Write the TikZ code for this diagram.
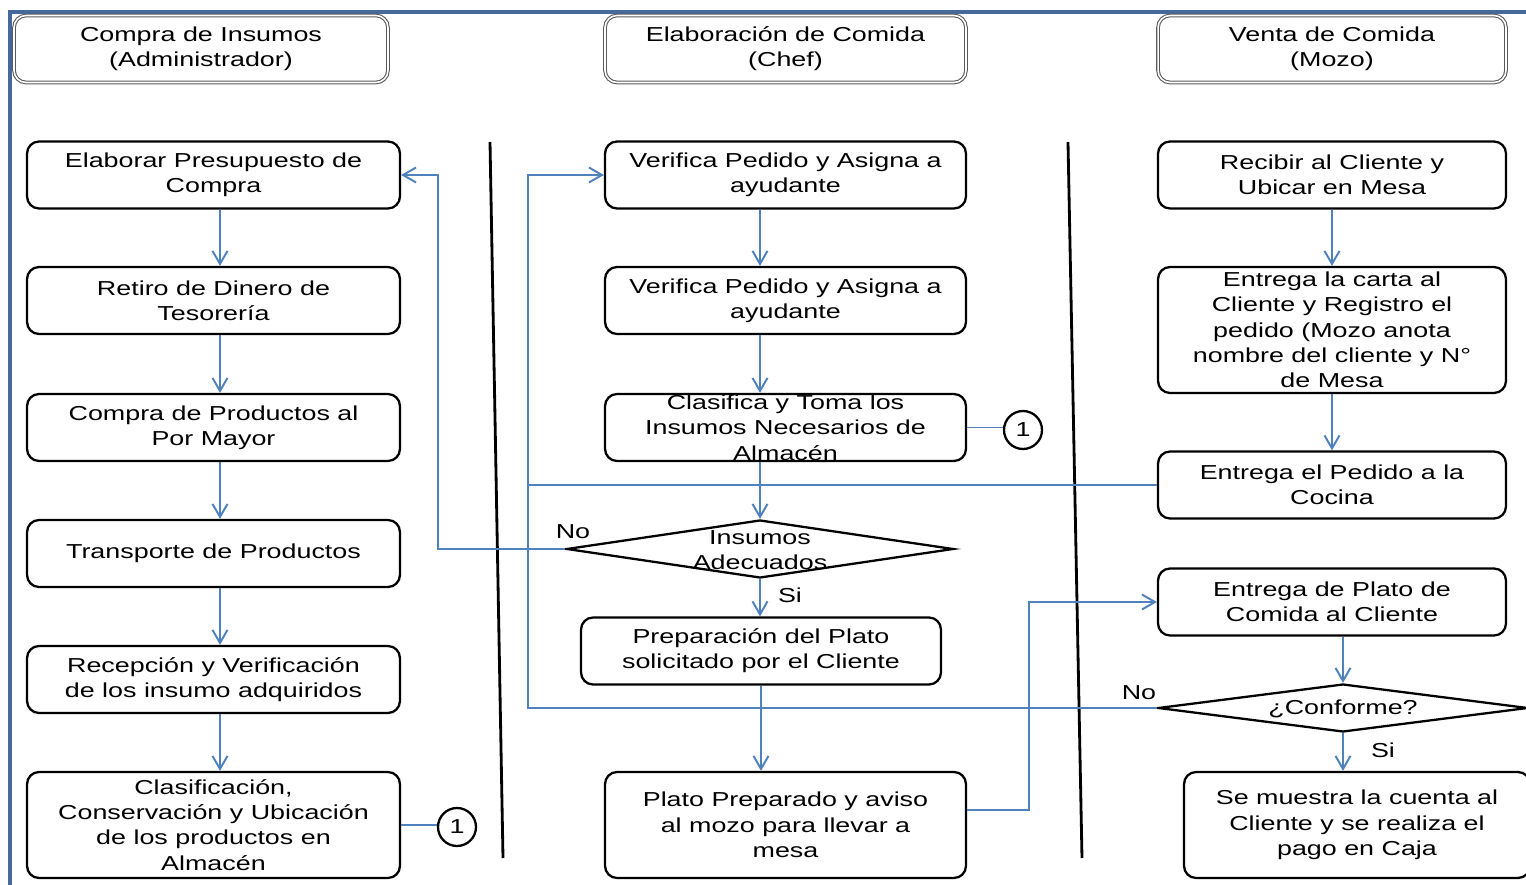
\documentclass[tikz,border=0pt]{standalone}
\usepackage{fontspec}
\setmainfont[FakeStretch=1.33]{Liberation Sans}
\usetikzlibrary{shapes.geometric,arrows.meta}
\definecolor{framecol}{RGB}{70,105,155}
\definecolor{flowcol}{RGB}{79,129,189}
\definecolor{headcol}{RGB}{90,90,90}
\begin{document}
\begin{tikzpicture}[x=0.02cm, y=-0.02cm,
  every node/.style={font=\fontsize{11.5}{14.4}\selectfont, align=center, inner sep=0pt},
  box/.style={draw, line width=1.3pt, rounded corners=0.24cm, minimum height=1.34cm},
  head/.style={draw=headcol, double, double distance=0.9pt, line width=0.6pt, rounded corners=0.24cm, minimum height=1.34cm},
  dec/.style={draw, diamond, line width=1.3pt},
  conn/.style={draw, circle, line width=1.3pt, minimum size=0.76cm},
  flow/.style={flowcol, line width=1.1pt},
  arr/.style={flow, -{Straight Barb[length=2.6mm,width=3mm]}},
  lane/.style={line width=1.6pt}]

\useasboundingbox (0,0) rectangle (1526,885);

\draw[framecol, line width=2.3pt] (10,885) -- (10,12) -- (1526,12);

\node[head, minimum width=7.48cm] (h1) at (201,49) {Compra de Insumos\\(Administrador)};
\node[head, minimum width=7.22cm] (h2) at (785.5,49) {Elaboración de Comida\\(Chef)};
\node[head, minimum width=6.96cm] (h3) at (1332,49) {Venta de Comida\\(Mozo)};

\draw[lane] (490,142) -- (503,858);
\draw[lane] (1068,142) -- (1082,858);

\node[box, minimum width=7.46cm] (a1) at (213.5,175) {Elaborar Presupuesto de\\Compra};
\node[box, minimum width=7.46cm] (a2) at (213.5,300.5) {Retiro de Dinero de\\Tesorería};
\node[box, minimum width=7.46cm] (a3) at (213.5,427.5) {Compra de Productos al\\Por Mayor};
\node[box, minimum width=7.46cm] (a4) at (213.5,553.5) {Transporte de Productos};
\node[box, minimum width=7.46cm] (a5) at (213.5,679.5) {Recepción y Verificación\\de los insumo adquiridos};
\node[box, minimum width=7.46cm, minimum height=2.12cm] (a6) at (213.5,825) {Clasificación,\\Conservación y Ubicación\\de los productos en\\Almacén};
\node[conn] (k1) at (457,827) {1};

\node[box, minimum width=7.22cm] (b1) at (785.5,175) {Verifica Pedido y Asigna a\\ayudante};
\node[box, minimum width=7.22cm] (b2) at (785.5,300.5) {Verifica Pedido y Asigna a\\ayudante};
\node[box, minimum width=7.22cm] (b3) at (785.5,427.5) {Clasifica y Toma los\\Insumos Necesarios de\\Almacén};
\node[conn] (k2) at (1023,430) {1};
\node[dec, minimum width=7.74cm, minimum height=1.16cm] (d1) at (760,549) {};
\node (d1t) at (760,550) {Insumos\\Adecuados};
\node[box, minimum width=7.2cm] (b4) at (761,651) {Preparación del Plato\\solicitado por el Cliente};
\node[box, minimum width=7.22cm, minimum height=2.12cm] (b5) at (785.5,825) {Plato Preparado y aviso\\al mozo para llevar a\\mesa};

\node[box, minimum width=6.96cm] (c1) at (1332,175) {Recibir al Cliente y\\Ubicar en Mesa};
\node[box, minimum width=6.96cm, minimum height=2.52cm] (c2) at (1332,330) {Entrega la carta al\\Cliente y Registro el\\pedido (Mozo anota\\nombre del cliente y N°\\de Mesa};
\node[box, minimum width=6.96cm] (c3) at (1332,485) {Entrega el Pedido a la\\Cocina};
\node[box, minimum width=6.96cm] (c4) at (1332,602) {Entrega de Plato de\\Comida al Cliente};
\node[dec, minimum width=7.4cm, minimum height=0.96cm] (d2) at (1343,708) {};
\node (d2t) at (1343,709) {¿Conforme?};
\node[box, minimum width=6.92cm, minimum height=2.12cm] (c5) at (1357,825) {Se muestra la cuenta al\\Cliente y se realiza el\\pago en Caja};

\node (no1) at (573,532) {No};
\node (si1) at (790,595) {Si};
\node (no2) at (1139,693) {No};
\node (si2) at (1383,750) {Si};

\coordinate (ax) at (220,0);
\draw[arr] (a1.south -| ax) -- (a2.north -| ax);
\draw[arr] (a2.south -| ax) -- (a3.north -| ax);
\draw[arr] (a3.south -| ax) -- (a4.north -| ax);
\draw[arr] (a4.south -| ax) -- (a5.north -| ax);
\draw[arr] (a5.south -| ax) -- (a6.north -| ax);
\draw[flow] (a6.east) -- (a6.east -| k1.west);

\draw[arr] (b1.south -| d1) -- (b2.north -| d1);
\draw[arr] (b2.south -| d1) -- (b3.north -| d1);
\draw[arr] (b3.south -| d1) -- (d1.north);
\draw[arr] (d1.south) -- (d1.south |- b4.north);
\draw[arr] (b4.south) -- (b4.south |- b5.north);
\draw[flow] (b3.east) -- (b3.east -| k2.west);

\draw[arr] (c1) -- (c2);
\draw[arr] (c2) -- (c3);
\draw[arr] (c4.south -| d2) -- (d2.north);
\draw[arr] (d2.south) -- (d2.south |- c5.north);

\coordinate (n1) at (438,549);
\coordinate (n2) at (528,708);
\coordinate (n3) at (1029,810);
\draw[arr] (d1.west) -- (n1) |- (a1.east);
\draw[arr] (d2.west) -- (n2) |- (b1.west);
\draw[flow] (c3.west) -- (c3.west -| n2);
\draw[arr] (b5.east |- n3) -- (n3) |- (c4.west);

\end{tikzpicture}
\end{document}
